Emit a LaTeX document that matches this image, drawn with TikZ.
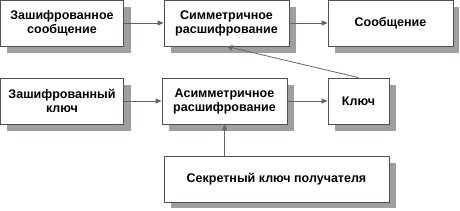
\documentclass[tikz,border=0pt]{standalone}
\usepackage{fontspec}
\setmainfont{Liberation Sans}
\usetikzlibrary{arrows.meta, positioning}
\definecolor{shadowgray}{RGB}{160,158,160}
\definecolor{framegray}{RGB}{80,80,80}
\definecolor{linegray}{RGB}{100,100,100}

\begin{document}
\begin{tikzpicture}[
    x=1pt, y=-1pt,
    stage/.style={rectangle, draw=framegray, fill=white, line width=0.8pt,
        minimum height=46pt, inner sep=2pt, align=center,
        font=\bfseries\fontsize{12.5}{14}\selectfont},
    flow/.style={draw=linegray, line width=0.8pt, -{Triangle[length=6pt, width=5pt]}}
]
\useasboundingbox (0,0) rectangle (460,211);

% Shadows
\fill[shadowgray] (7,7) rectangle (131,53);
\fill[shadowgray] (171,7) rectangle (296,53);
\fill[shadowgray] (335,7) rectangle (459,53);
\fill[shadowgray] (7,85) rectangle (131,131);
\fill[shadowgray] (169,85) rectangle (294,131);
\fill[shadowgray] (335,85) rectangle (396,131);
\fill[shadowgray] (171,163) rectangle (396,208);

% Upper row
\node[stage, minimum width=123pt] (cmsg) at (62,23) {Зашифрованное\\сообщение};
\node[stage, minimum width=125pt] (symdec) at (226.5,23) {Симметричное\\расшифрование};
\node[stage, minimum width=125pt] (msg) at (390.5,23) {Сообщение};

% Lower row
\node[stage, minimum width=123pt] (ckey) at (62,101) {Зашифрованный\\ключ};
\node[stage, minimum width=125pt] (asymdec) at (224.5,101) {Асимметричное\\расшифрование};
\node[stage, minimum width=61pt] (key) at (358.5,101) {Ключ};

% Private key
\node[stage, minimum width=225pt] (privkey) at (276.5,179) {Секретный ключ получателя};

% Connectors
\draw[flow] (cmsg) -- (symdec);
\draw[flow] (symdec) -- (msg);
\draw[flow] (ckey) -- (asymdec);
\draw[flow] (asymdec) -- (key);
\draw[flow] (key.north) -- (symdec.south);
\draw[flow] (asymdec.south |- privkey.north) -- (asymdec.south);

\end{tikzpicture}
\end{document}
